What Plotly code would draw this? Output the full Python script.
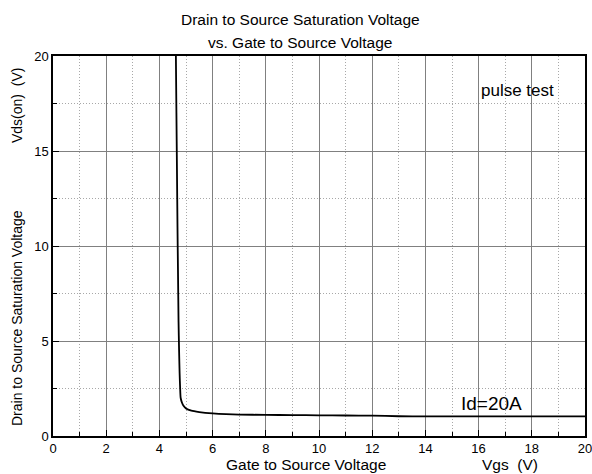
import plotly.graph_objects as go

vgs = [4.62, 4.64, 4.66, 4.68, 4.70, 4.72, 4.74, 4.76, 4.78, 4.80, 4.85, 4.90, 5.0, 5.2, 5.5, 6.0, 6.5, 7.0, 8.0, 9.0, 10.0, 11.0, 12.0, 13.0, 14.0, 16.0, 18.0, 20.0]
vds = [20.0, 17.0, 14.0, 11.0, 8.5, 6.0, 4.5, 3.3, 2.5, 2.0, 1.75, 1.6, 1.45, 1.33, 1.26, 1.19, 1.15, 1.13, 1.11, 1.10, 1.09, 1.08, 1.07, 1.04, 1.03, 1.03, 1.03, 1.03]

x_ticks = [0, 2, 4, 6, 8, 10, 12, 14, 16, 18, 20]
y_ticks = [0, 5, 10, 15, 20]

FONT = "Liberation Sans, Arial, sans-serif"

# plot area in pixels
L, R, T, B = 53, 585, 56, 436
W, H = 592, 474


def px(xp):
    return (xp - L) / (R - L)


def py(yp):
    return (B - yp) / (B - T)


fig = go.Figure()
fig.add_trace(go.Scatter(x=vgs, y=vds, mode="lines",
                         line=dict(color="black", width=1.8, shape="spline", smoothing=0.6),
                         showlegend=False, hoverinfo="skip"))

axis_common = dict(
    showline=True, linecolor="black", linewidth=1.5, mirror=True,
    ticks="inside", ticklen=6, tickwidth=1, tickcolor="black",
    showgrid=True, gridcolor="#808080", gridwidth=1,
    zeroline=False, automargin=False, ticklabeloverflow="allow",
    tickfont=dict(family=FONT, size=13, color="black"),
)

fig.update_xaxes(range=[0, 20], tickvals=x_ticks, ticktext=[str(v) for v in x_ticks],
                 minor=dict(dtick=1, ticks="inside", ticklen=4, tickcolor="black",
                            showgrid=True, gridcolor="#a8a8a8", griddash="1px,2px", gridwidth=1),
                 **axis_common)
fig.update_yaxes(range=[0, 20], tickvals=y_ticks, ticktext=[str(v) for v in y_ticks],
                 minor=dict(dtick=2.5, ticks="inside", ticklen=4, tickcolor="black",
                            showgrid=True, gridcolor="#a8a8a8", griddash="1px,2px", gridwidth=1),
                 **axis_common)


def paper_text(text, xp, yp, size, angle=0):
    return dict(text=text, xref="paper", yref="paper", x=px(xp), y=py(yp),
                showarrow=False, xanchor="center", yanchor="middle", textangle=angle,
                font=dict(family=FONT, size=size, color="black"))


annotations = [
    paper_text("Drain to Source Saturation Voltage", 300, 20, 15.5),
    paper_text("vs. Gate to Source Voltage", 300, 42, 15.5),
    paper_text("Gate to Source Voltage", 306, 464, 15.5),
    paper_text("Vgs  (V)", 510, 464, 15.5),
    paper_text("Drain to Source Saturation Voltage", 17, 318, 14, -90),
    paper_text("Vds(on)  (V)", 17, 106, 14, -90),
    dict(text="pulse test", x=17.45, y=18.2, xref="x", yref="y", showarrow=False,
         xanchor="center", yanchor="middle", font=dict(family=FONT, size=17, color="black")),
    dict(text="Id=20A", x=16.5, y=1.7, xref="x", yref="y", showarrow=False,
         xanchor="center", yanchor="middle", font=dict(family=FONT, size=19, color="black")),
]

fig.update_layout(
    width=W, height=H,
    margin=dict(l=L, r=W - R, t=T, b=H - B),
    paper_bgcolor="white", plot_bgcolor="white",
    annotations=annotations,
    font=dict(family=FONT, color="black"),
    hovermode=False,
)

fig.write_html("out.html", config={"displayModeBar": False},
               post_script="document.body.style.margin='0';document.body.style.overflow='hidden';")
